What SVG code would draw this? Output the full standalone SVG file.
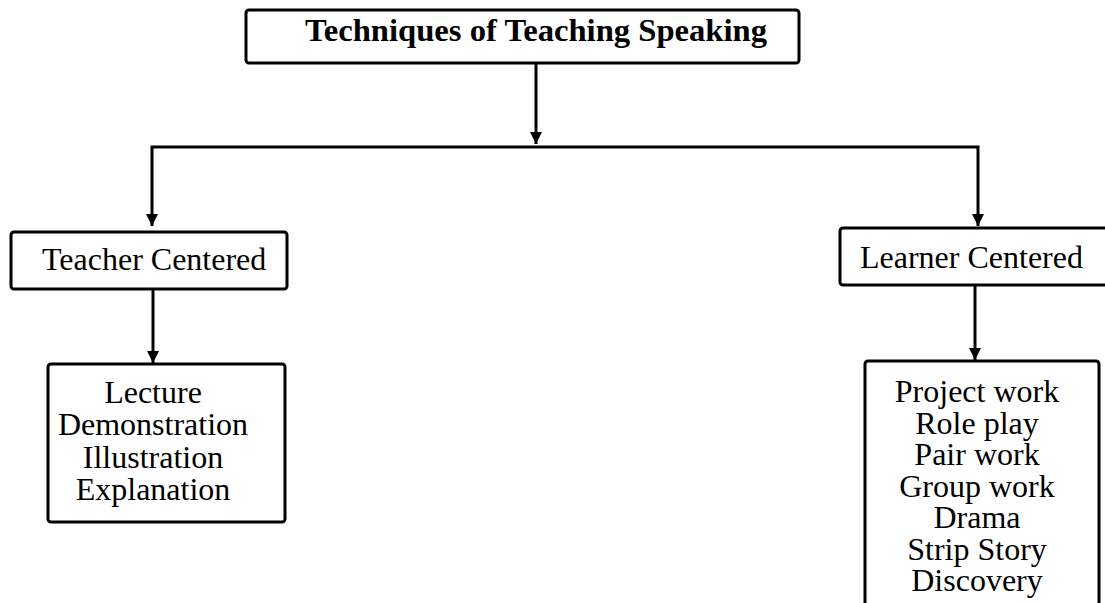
<svg xmlns="http://www.w3.org/2000/svg" width="1105" height="603" viewBox="0 0 1105 603">
<style>
.box{fill:#fff;stroke:#000;stroke-width:3}
.t{font-family:"Liberation Serif","Times New Roman",serif;font-size:32px;fill:#000}
.b{font-weight:bold}
.c{stroke:#000;stroke-width:3;fill:none}
</style>
<defs>
<marker id="a" markerUnits="userSpaceOnUse" markerWidth="13" markerHeight="12" refX="12" refY="6" orient="auto" viewBox="0 0 13 12">
<path d="M0,0 L12,6 L0,12 Z" fill="#000"/>
</marker>
</defs>
<rect width="1105" height="603" fill="#fff"/>
<g id="connectors">
<line class="c" x1="536" y1="64" x2="536" y2="144" marker-end="url(#a)"/>
<polyline class="c" points="536,147 152,147 152,226" marker-end="url(#a)"/>
<polyline class="c" points="536,147 978,147 978,226" marker-end="url(#a)"/>
<line class="c" x1="153" y1="289" x2="153" y2="363" marker-end="url(#a)"/>
<line class="c" x1="975" y1="285" x2="975" y2="360" marker-end="url(#a)"/>
</g>
<g id="root">
<rect class="box" x="246" y="10" width="553" height="53" rx="3"/>
<text class="t b" x="305" y="41" textLength="462" lengthAdjust="spacingAndGlyphs">Techniques of Teaching Speaking</text>
</g>
<g id="teacher">
<rect class="box" x="11" y="232" width="276" height="57" rx="3"/>
<text class="t" x="42" y="270">Teacher Centered</text>
</g>
<g id="learner">
<rect class="box" x="840" y="228" width="270" height="57" rx="3"/>
<text class="t" x="860" y="268">Learner Centered</text>
</g>
<g id="teacher-list">
<rect class="box" x="48" y="364" width="237" height="158" rx="3"/>
<text class="t" text-anchor="middle" x="153"><tspan x="153" y="403">Lecture</tspan><tspan x="153" y="435">Demonstration</tspan><tspan x="153" y="468">Illustration</tspan><tspan x="153" y="500">Explanation</tspan></text>
</g>
<g id="learner-list">
<rect class="box" x="865" y="361" width="234" height="260" rx="3"/>
<text class="t" text-anchor="middle" x="977"><tspan x="977" y="402">Project work</tspan><tspan x="977" y="433.5">Role play</tspan><tspan x="977" y="465">Pair work</tspan><tspan x="977" y="496.5">Group work</tspan><tspan x="977" y="528">Drama</tspan><tspan x="977" y="559.5">Strip Story</tspan><tspan x="977" y="591">Discovery</tspan></text>
</g>
</svg>
